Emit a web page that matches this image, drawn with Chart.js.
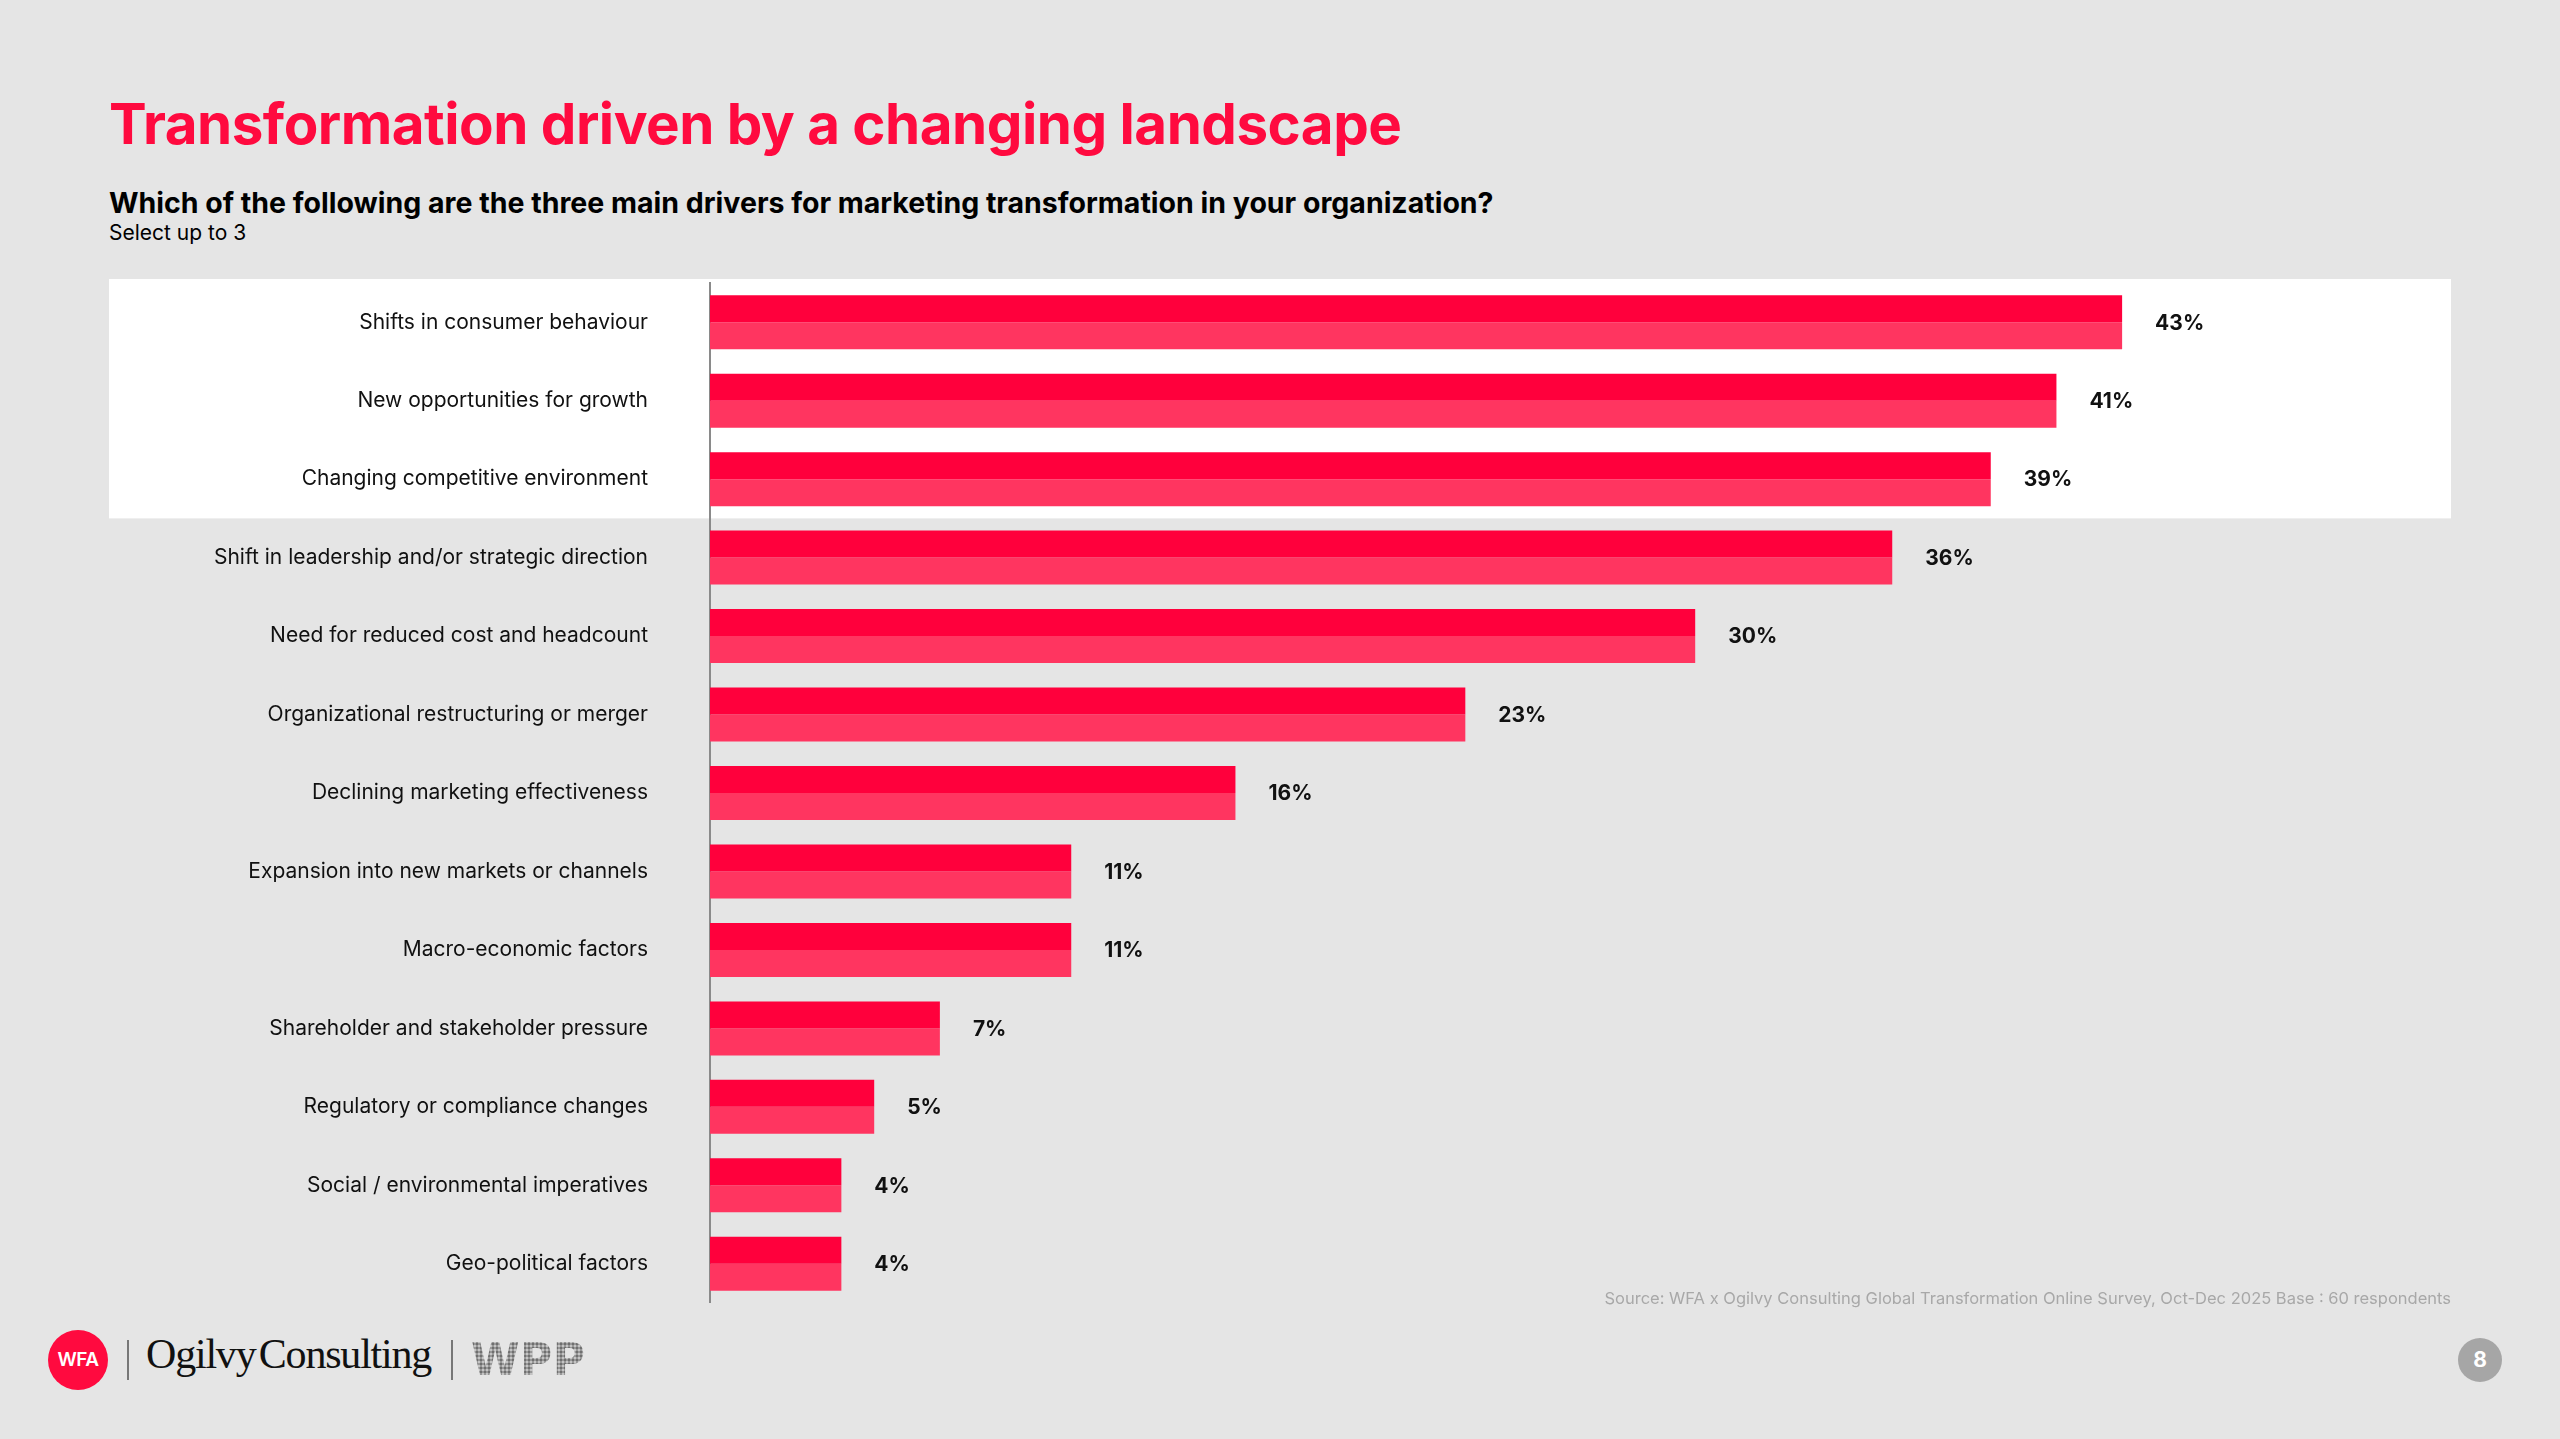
<!DOCTYPE html>
<html>
<head>
<meta charset="utf-8">
<script src="https://cdn.jsdelivr.net/npm/chart.js@4.4.1/dist/chart.umd.min.js"></script>
<style>
  html, body { margin: 0; padding: 0; }
  body {
    width: 2560px; height: 1439px; background: #e5e5e5;
    position: relative; overflow: hidden;
    font-family: Inter, "Noto Sans", sans-serif; color: #111;
  }
  .title {
    position: absolute; left: 109px; top: 96px;
    font-size: 56.5px; line-height: 1; font-weight: 700; color: #ff0a3f;
    letter-spacing: -0.5px;
  }
  .question {
    position: absolute; left: 109px; top: 189px;
    font-size: 28.5px; line-height: 1; font-weight: 700; color: #000;
  }
  .note {
    position: absolute; left: 109px; top: 222px;
    font-size: 21px; line-height: 1; color: #000;
  }
  #wrap { position: absolute; left: 109px; top: 275px; width: 2342px; height: 1028px; }
  .source {
    position: absolute; right: 109px; top: 1290px;
    font-size: 16.5px; line-height: 1; color: #a8a8a8;
  }
  .wfa {
    position: absolute; left: 48px; top: 1330px; width: 60px; height: 60px;
    border-radius: 50%; background: #ff0a3f; color: #fff;
    font-size: 19px; font-weight: 600; line-height: 60px; text-align: center;
    letter-spacing: -0.5px;
  }
  .sep { position: absolute; top: 1340px; width: 2px; height: 40px; background: #777; }
  .ogilvy {
    position: absolute; left: 146px; top: 1333px;
    font-family: "Liberation Serif", serif; font-size: 42px; line-height: 1;
    color: #111; letter-spacing: -1.2px; word-spacing: -6px;
  }
  .wpp {
    position: absolute; left: 471px; top: 1338px;
    font-family: "DejaVu Sans", sans-serif; font-weight: 700; font-size: 44px; line-height: 1;
    letter-spacing: 0.5px; color: transparent;
    background: radial-gradient(circle, #6f6f6f 1.3px, #c4c4c4 1.9px) 0 0 / 4px 4px;
    -webkit-background-clip: text; background-clip: text;
  }
  .page {
    position: absolute; left: 2458px; top: 1338px; width: 44px; height: 44px;
    border-radius: 50%; background: #a6a6a6; color: #fff;
    font-size: 21px; font-weight: 700; line-height: 44px; text-align: center;
  }
</style>
</head>
<body>
<div class="title">Transformation driven by a changing landscape</div>
<div class="question">Which of the following are the three main drivers for marketing transformation in your organization?</div>
<div class="note">Select up to 3</div>

<div id="wrap"><canvas id="chart"></canvas></div>

<div class="source">Source: WFA x Ogilvy Consulting Global Transformation Online Survey, Oct-Dec 2025 Base : 60 respondents</div>

<div class="wfa">WFA</div>
<div class="sep" style="left:127px"></div>
<div class="ogilvy">Ogilvy Consulting</div>
<div class="sep" style="left:451px"></div>
<div class="wpp">WPP</div>
<div class="page">8</div>

<script>
const drivers = [
  "Shifts in consumer behaviour",
  "New opportunities for growth",
  "Changing competitive environment",
  "Shift in leadership and/or strategic direction",
  "Need for reduced cost and headcount",
  "Organizational restructuring or merger",
  "Declining marketing effectiveness",
  "Expansion into new markets or channels",
  "Macro-economic factors",
  "Shareholder and stakeholder pressure",
  "Regulatory or compliance changes",
  "Social / environmental imperatives",
  "Geo-political factors"
];
const shares = [43, 41, 39, 36, 30, 23, 16, 11, 11, 7, 5, 4, 4];
// the first three rows sit on a white panel
const highlightedRows = 3;

const red = "#ff003c";
const lightRed = "#ff3560";

// white band behind the top drivers
const panelPlugin = {
  id: "panel",
  beforeDraw(chart) {
    const y = chart.scales.y;
    const band = y.getPixelForValue(1) - y.getPixelForValue(0);
    const top = y.getPixelForValue(0) - band / 2 - 4;
    const bottom = y.getPixelForValue(highlightedRows - 1) + band / 2;
    const ctx = chart.ctx;
    ctx.save();
    ctx.fillStyle = "#ffffff";
    ctx.fillRect(0, top, chart.width, bottom - top);
    ctx.restore();
  }
};

// percentage at the end of each bar
const valuePlugin = {
  id: "values",
  afterDatasetsDraw(chart) {
    const ctx = chart.ctx;
    const y = chart.scales.y;
    const meta = chart.getDatasetMeta(0);
    ctx.save();
    ctx.font = "700 21px Inter, 'Noto Sans', sans-serif";
    ctx.fillStyle = "#111";
    ctx.textAlign = "left";
    ctx.textBaseline = "middle";
    meta.data.forEach((bar, i) => {
      ctx.fillText(shares[i] + "%", bar.x + 33, y.getPixelForValue(i) + 1);
    });
    ctx.restore();
  }
};

const ctx = document.getElementById("chart").getContext("2d");
const chart = new Chart(ctx, {
  type: "bar",
  data: {
    labels: drivers,
    datasets: [
      { data: shares, backgroundColor: red },
      { data: shares, backgroundColor: lightRed }
    ]
  },
  options: {
    indexAxis: "y",
    responsive: true,
    maintainAspectRatio: false,
    animation: false,
    devicePixelRatio: 1,
    categoryPercentage: 0.688,
    barPercentage: 1,
    layout: { padding: { top: 8, right: 99, bottom: 0, left: 0 } },
    plugins: { legend: { display: false }, tooltip: { enabled: false } },
    scales: {
      x: { display: false, min: 0, max: 50 },
      y: {
        grid: { display: false, drawTicks: false },
        border: { display: true, color: "#8a8a8a", width: 2 },
        ticks: {
          padding: 62,
          color: "#111",
          font: { family: "Inter, 'Noto Sans', sans-serif", size: 21 }
        },
        afterFit(scale) {
          scale.width = 601;
          // tick padding should not eat into the bar area
          scale.paddingTop = 0;
          scale.paddingBottom = 0;
        }
      }
    }
  },
  plugins: [panelPlugin, valuePlugin]
});
</script>
</body>
</html>
